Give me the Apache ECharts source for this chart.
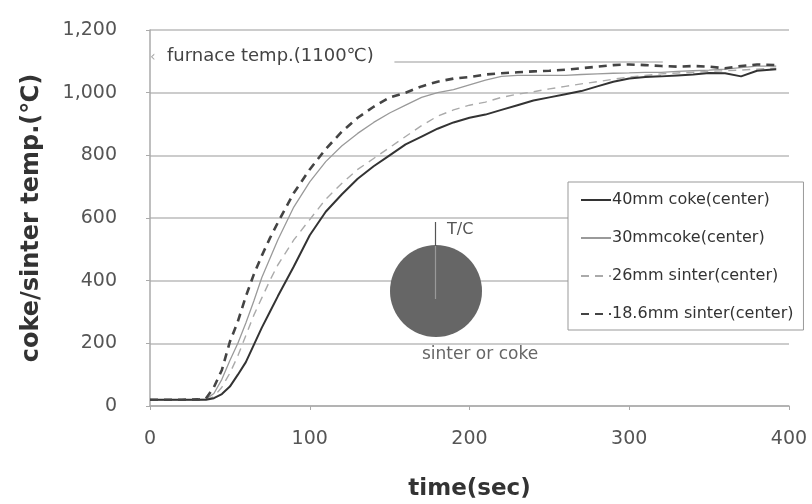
<!DOCTYPE html>
<html>
<head>
<meta charset="utf-8">
<script src="https://cdn.jsdelivr.net/npm/echarts@6/dist/echarts.min.js"></script>
<style>
  html, body { margin: 0; padding: 0; background: #fff; }
  #main { width: 812px; height: 504px; }
</style>
</head>
<body>
<div id="main"></div>
<script>
// time (sec)
var times = [0, 10, 20, 30, 35, 40, 45, 50, 55, 60, 65, 70, 75, 80, 90, 100, 110, 120, 130, 140, 150,
    160, 170, 180, 190, 200, 210, 220, 230, 240, 250, 260, 270, 280, 290, 300, 310, 320, 330, 340,
    350, 360, 370, 380, 392];

var coke40 = [20, 20, 20, 20, 20, 25, 38, 62, 100, 140, 195, 250, 300, 350, 445, 545, 620, 675, 725, 765, 800,
    835, 860, 885, 905, 920, 930, 945, 960, 975, 985, 995, 1005, 1020, 1035, 1045, 1050, 1052, 1055, 1058,
    1063, 1062, 1052, 1070, 1075];
var coke30 = [20, 20, 20, 20, 22, 40, 85, 145, 200, 265, 335, 410, 470, 530, 635, 715, 780, 830, 870, 905, 935,
    960, 985, 1000, 1010, 1025, 1040, 1052, 1055, 1055, 1055, 1055, 1058, 1060, 1062, 1063, 1065, 1065, 1068, 1070,
    1072, 1075, 1080, 1085, 1085];
var sinter26 = [20, 20, 20, 20, 20, 30, 60, 105, 160, 225, 290, 345, 400, 450, 530, 595, 660, 710, 755, 790, 825,
    860, 895, 925, 945, 960, 970, 985, 995, 1003, 1012, 1020, 1028, 1035, 1043, 1050, 1055, 1060, 1063, 1065,
    1068, 1070, 1072, 1075, 1078];
var sinter186 = [20, 20, 20, 21, 24, 60, 115, 205, 270, 350, 420, 480, 535, 585, 680, 755, 820, 875, 920, 955, 985,
    1000, 1020, 1035, 1045, 1050, 1058, 1062, 1065, 1068, 1070, 1073, 1078, 1083, 1088, 1090, 1088, 1085, 1083, 1085,
    1083, 1078, 1085, 1090, 1088];

var xTicks = [0, 400, 100];
var yTicks = [0, 1200, 200];
var furnaceTemp = 1100;

function pairs(vals) {
    return times.map(function (t, i) { return [t, vals[i]]; });
}

var font = 'DejaVu Sans';
var chart = echarts.init(document.getElementById('main'));

var option = {
    animation: false,
    backgroundColor: '#fff',
    grid: { left: 150, right: 23, top: 30, bottom: 98, outerBoundsMode: 'none', containLabel: false },
    legend: {
        orient: 'vertical',
        left: 568,
        top: 182,
        padding: [9, 10, 7, 12],
        itemGap: 20,
        itemWidth: 30,
        itemHeight: 14,
        borderColor: '#999',
        borderWidth: 1,
        backgroundColor: '#fff',
        itemStyle: { color: 'rgba(0,0,0,0)', borderWidth: 0 },
        textStyle: { fontFamily: font, fontSize: 16, lineHeight: 18, color: '#333', padding: [0, 0, 0, -4] },
        data: ['40mm coke(center)', '30mmcoke(center)', '26mm sinter(center)', '18.6mm sinter(center)']
    },
    xAxis: {
        type: 'value',
        min: xTicks[0], max: xTicks[1], interval: xTicks[2],
        name: 'time(sec)',
        nameLocation: 'middle',
        nameGap: 72,
        nameTextStyle: { fontFamily: font, fontSize: 23, fontWeight: 'bold', color: '#333' },
        axisLine: { lineStyle: { color: '#aaa', width: 1.5 } },
        axisTick: { show: true, length: 4, lineStyle: { color: '#aaa' } },
        axisLabel: { margin: 24, fontFamily: font, fontSize: 19, color: '#555' },
        splitLine: { show: false }
    },
    yAxis: {
        type: 'value',
        min: yTicks[0], max: yTicks[1], interval: yTicks[2],
        name: 'coke/sinter temp.(℃)',
        nameLocation: 'middle',
        nameGap: 106,
        nameTextStyle: { fontFamily: font, fontSize: 24, fontWeight: 'bold', color: '#333' },
        axisLine: { show: true, lineStyle: { color: '#aaa', width: 1.5 } },
        axisTick: { show: true, length: 4, lineStyle: { color: '#aaa' } },
        axisLabel: {
            margin: 33, fontFamily: font, fontSize: 19, color: '#555',
            formatter: function (v) { return v.toLocaleString('en-US'); }
        },
        splitLine: { lineStyle: { color: '#bbb', width: 1.5 } }
    },
    series: [
        {
            name: '40mm coke(center)', type: 'line', symbol: 'none', z: 4,
            lineStyle: { color: '#333', width: 2 },
            itemStyle: { color: '#333' },
            data: pairs(coke40),
            markLine: {
                silent: true, symbol: 'none', label: { show: false },
                lineStyle: { color: '#ccc', width: 2, type: 'solid' },
                data: [[{ coord: [153, furnaceTemp] }, { coord: [321, furnaceTemp] }]]
            }
        },
        {
            name: '30mmcoke(center)', type: 'line', symbol: 'none', z: 3,
            lineStyle: { color: '#9a9a9a', width: 1.3 },
            itemStyle: { color: '#9a9a9a' },
            data: pairs(coke30)
        },
        {
            name: '26mm sinter(center)', type: 'line', symbol: 'none', z: 3,
            lineStyle: { color: '#aaa', width: 1.4, type: [8, 6] },
            itemStyle: { color: '#aaa' },
            data: pairs(sinter26)
        },
        {
            name: '18.6mm sinter(center)', type: 'line', symbol: 'none', z: 5,
            lineStyle: { color: '#444', width: 2.6, type: [8, 6] },
            itemStyle: { color: '#444' },
            data: pairs(sinter186)
        }
    ],
    graphic: [
        { type: 'text', left: 150, top: 50, style: { text: '‹', fontFamily: font, fontSize: 14, fill: '#aaa' } },
        { type: 'text', left: 167, top: 47, style: { text: 'furnace temp.(1100℃)', fontFamily: font, fontSize: 18, fill: '#444' } },
        { type: 'circle', shape: { cx: 436, cy: 291, r: 46 }, style: { fill: '#666' }, z: 10 },
        { type: 'line', shape: { x1: 435.5, y1: 222, x2: 435.5, y2: 246 }, style: { stroke: '#555', lineWidth: 1.2 }, z: 11 },
        { type: 'line', shape: { x1: 435.5, y1: 246, x2: 435.5, y2: 299 }, style: { stroke: '#999', lineWidth: 1.2 }, z: 11 },
        { type: 'text', left: 447, top: 222, style: { text: 'T/C', fontFamily: font, fontSize: 16, fill: '#555' }, z: 11 },
        { type: 'text', left: 422, top: 346, style: { text: 'sinter or coke', fontFamily: font, fontSize: 17, fill: '#666' }, z: 11 }
    ]
};
chart.setOption(option);
</script>
</body>
</html>
